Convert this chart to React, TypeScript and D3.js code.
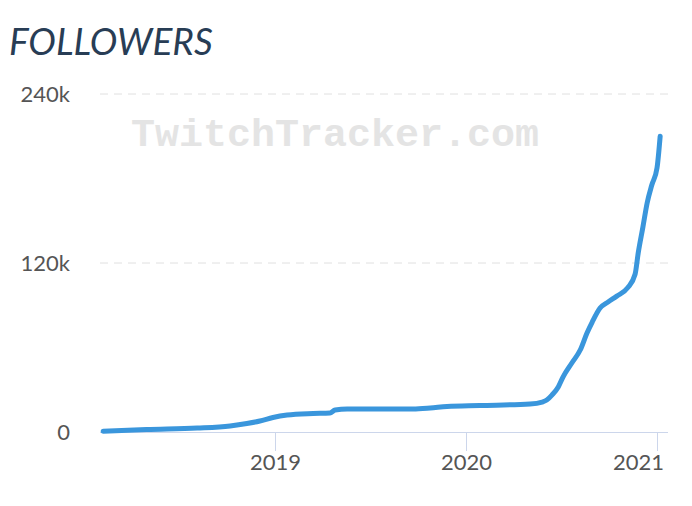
import React from "react";
import * as d3 from "d3";

const dates: string[] = [
  "2018-02-06", "2018-04-30", "2018-08-05", "2018-10-07", "2018-11-08", "2018-12-03",
  "2018-12-28", "2019-01-24", "2019-03-15", "2019-04-16", "2019-04-26", "2019-05-19",
  "2019-09-22", "2019-10-25", "2019-11-26", "2020-01-28", "2020-05-03", "2020-05-26",
  "2020-06-04", "2020-06-14", "2020-06-26", "2020-07-05", "2020-07-22", "2020-08-07",
  "2020-08-20", "2020-08-30", "2020-09-14", "2020-09-30", "2020-10-16", "2020-11-06",
  "2020-11-20", "2020-11-26", "2020-12-05", "2020-12-13", "2020-12-22", "2021-01-01",
  "2021-01-07",
];
const followers: number[] = [
  600, 1800, 2800, 4300, 6000, 7800,
  10300, 12000, 13100, 13500, 15600, 16300,
  16300, 17000, 18100, 18800, 19900, 21300,
  22700, 26300, 32000, 39000, 49000, 58200,
  70300, 78100, 88000, 92500, 96500, 102500,
  112000, 127100, 145600, 162500, 175400, 187500,
  210000,
];
const yTicks: number[] = [0, 120000, 240000];
const yTickLabels: string[] = ["0", "120k", "240k"];
const xTicks: string[] = ["2019-01-01", "2020-01-01", "2021-01-01"];
const xTickLabels: string[] = ["2019", "2020", "2021"];

const W = 692;
const H = 506;
const parse = d3.utcParse("%Y-%m-%d");

export default function App() {
  const x = d3
    .scaleUtc()
    .domain([parse("2018-01-31")!, parse("2021-01-22")!])
    .range([100, 668]);
  const y = d3.scaleLinear().domain([0, 240000]).range([432, 94]);
  const data = dates.map((d, i) => ({ date: parse(d)!, v: followers[i] }));
  const line = d3
    .line<{ date: Date; v: number }>()
    .x((d) => x(d.date))
    .y((d) => y(d.v))
    .curve(d3.curveMonotoneX);
  const font = "Lato, 'Open Sans', sans-serif";
  return (
    <svg
      width={W}
      height={H}
      style={{ position: "absolute", left: 0, top: 0, background: "#fff" }}
    >
      <text
        x={9}
        y={55}
        fontFamily={font}
        fontStyle="italic"
        fontSize={37}
        fill="#283d55"
      >
        FOLLOWERS
      </text>
      {yTicks.map((t, i) =>
        t === 0 ? null : (
          <line
            key={"g" + i}
            x1={100}
            x2={668}
            y1={y(t)}
            y2={y(t)}
            stroke="#e0e0e0"
            strokeWidth={1}
            strokeDasharray="8,6"
          />
        )
      )}
      <text
        x={335}
        y={146}
        textAnchor="middle"
        fontFamily="'Liberation Mono', 'DejaVu Sans Mono', monospace"
        fontWeight="bold"
        fontSize={38}
        fill="#e4e4e4"
        textLength={408}
        lengthAdjust="spacingAndGlyphs"
      >
        TwitchTracker.com
      </text>
      {yTicks.map((t, i) => (
        <text
          key={"yl" + i}
          x={70}
          y={y(t)}
          dy="0.36em"
          textAnchor="end"
          fontFamily={font}
          fontSize={22}
          fill="#555"
        >
          {yTickLabels[i]}
        </text>
      ))}
      <line x1={100} x2={668} y1={432.5} y2={432.5} stroke="#ccd6eb" strokeWidth={1} />
      {xTicks.map((t, i) => {
        const px = Math.round(x(parse(t)!)) + 0.5;
        const last = i === xTicks.length - 1;
        return (
          <g key={"xt" + i}>
            <line x1={px} x2={px} y1={432} y2={451} stroke="#ccd6eb" strokeWidth={1} />
            <text
              x={last ? 664 : px}
              y={470}
              textAnchor={last ? "end" : "middle"}
              fontFamily={font}
              fontSize={22}
              fill="#555"
            >
              {xTickLabels[i]}
            </text>
          </g>
        );
      })}
      <path
        d={line(data) || ""}
        fill="none"
        stroke="#3a96dc"
        strokeWidth={5}
        strokeLinejoin="round"
        strokeLinecap="round"
      />
    </svg>
  );
}
